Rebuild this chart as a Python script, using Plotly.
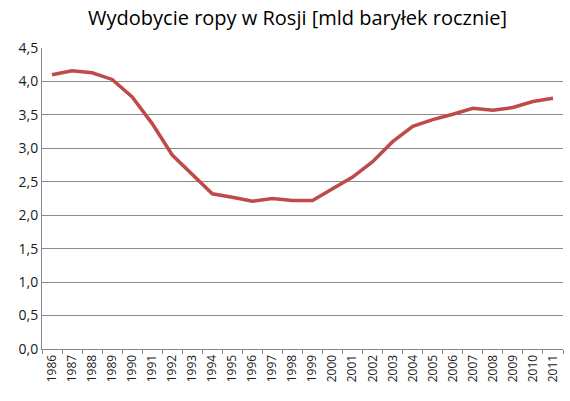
import plotly.graph_objects as go

years = [str(y) for y in range(1986, 2012)]
production = [4.10, 4.16, 4.13, 4.03, 3.77, 3.37, 2.90, 2.61, 2.32, 2.27,
              2.21, 2.25, 2.22, 2.22, 2.40, 2.57, 2.80, 3.10, 3.33, 3.43,
              3.51, 3.60, 3.57, 3.61, 3.70, 3.75]
title = "Wydobycie ropy w Rosji [mld baryłek rocznie]"

fig = go.Figure(go.Scatter(
    x=years, y=production, mode="lines",
    line=dict(color="#BE4B48", width=3.5),
))

fig.update_layout(
    width=570, height=401,
    margin=dict(l=42, r=7, t=48, b=52),
    paper_bgcolor="white", plot_bgcolor="white",
    separators=", ",
    showlegend=False,
    font=dict(family="Open Sans, Liberation Sans, sans-serif", color="#1a1a1a"),
    title=dict(text=title, x=0.522, xanchor="center", y=0.955, yanchor="middle",
               font=dict(size=20, color="#000000")),
)
fig.update_xaxes(
    type="category", range=[-0.5, len(years) - 0.5],
    tickangle=-90, tickfont=dict(size=12),
    ticks="outside", tickson="boundaries", ticklen=4, tickcolor="#868686",
    showline=True, linecolor="#868686", linewidth=1, showgrid=False,
)
fig.update_yaxes(
    range=[0, 4.5], dtick=0.5, tickformat=".1f", tickfont=dict(size=14),
    showgrid=True, gridcolor="#8C8C8C", gridwidth=1,
    showline=True, linecolor="#868686", linewidth=1, zeroline=False,
    ticks="", ticklen=0,
)

# page has a default body margin, drop it so the chart sits at 0,0
fig.write_html("out.html", config={"displayModeBar": False},
               post_script="document.body.style.margin='0';")
